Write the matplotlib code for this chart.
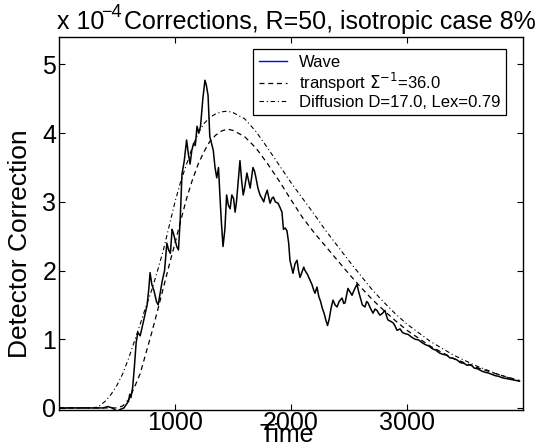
import matplotlib
matplotlib.use("Agg")
import matplotlib.pyplot as plt
from matplotlib.lines import Line2D

plt.rcParams['font.family'] = ['Liberation Sans', 'DejaVu Sans']

# ---- data (values in units of 1e-4) ----
wave_t = [0, 100, 200, 300, 380, 420, 460, 500, 530, 560, 580, 600, 610, 620, 635, 650, 665, 680, 700,
          720, 740, 760, 775, 785, 800, 820, 840, 855, 870, 890, 910, 930, 945, 960, 975, 985, 1000,
          1015, 1030, 1045, 1060, 1080, 1100, 1115, 1130, 1145, 1160, 1175, 1190, 1205, 1220, 1240,
          1258, 1270, 1285, 1300, 1315, 1330, 1345, 1360, 1375, 1390, 1400, 1414, 1430, 1445, 1460,
          1475, 1490, 1505, 1518, 1530, 1545, 1560, 1575, 1588, 1600, 1620, 1635, 1648, 1660, 1672,
          1685, 1698, 1715, 1733, 1750, 1765, 1780, 1795, 1810, 1820, 1835, 1848, 1865, 1888, 1905,
          1922, 1935, 1950, 1965, 1980, 1991, 2005, 2017, 2035, 2052, 2065, 2078, 2095, 2110, 2121,
          2140, 2164, 2180, 2195, 2207, 2224, 2240, 2255, 2270, 2285, 2300, 2315, 2330, 2345, 2362,
          2380, 2397, 2415, 2440, 2455, 2466, 2480, 2491, 2505, 2526, 2545, 2569, 2582, 2595, 2615,
          2638, 2652, 2664, 2685, 2707, 2725, 2741, 2755, 2767, 2790, 2810, 2825, 2836, 2860, 2879,
          2895, 2914, 2940, 2960, 2985, 3010, 3040, 3070, 3100, 3130, 3160, 3190, 3220, 3250, 3280,
          3310, 3340, 3370, 3400, 3430, 3460, 3490, 3520, 3550, 3580, 3610, 3640, 3670, 3700, 3730,
          3760, 3790, 3820, 3850, 3880, 3910, 3940, 3970]
wave_v = [0, 0, 0, 0, 0, 0.02, 0.0, -0.05, -0.02, 0.0, 0.05, 0.1, 0.2, 0.15, 0.3, 0.6, 0.95, 1.1, 1.05,
          1.2, 1.35, 1.5, 1.75, 1.97, 1.8, 1.7, 1.55, 1.5, 1.65, 1.85, 2.0, 2.4, 2.3, 2.25, 2.6, 2.55, 2.45,
          2.35, 2.3, 2.75, 3.4, 3.6, 3.9, 3.7, 3.55, 3.75, 3.85, 3.82, 4.1, 4.0, 4.1, 4.5,
          4.77, 4.7, 4.55, 3.95, 3.85, 3.75, 3.5, 3.35, 3.5, 3.0, 2.7, 2.35, 2.6, 3.1, 2.95,
          2.9, 3.1, 3.05, 2.85, 3.0, 3.3, 3.6, 3.3, 3.1, 3.2, 3.42, 3.3, 3.2, 3.35, 3.5,
          3.45, 3.35, 3.2, 3.1, 3.05, 3.0, 3.1, 3.17, 3.05, 2.98, 3.05, 3.07, 3.0, 2.98, 2.92,
          2.85, 2.6, 2.62, 2.58, 2.4, 2.15, 2.05, 1.96, 2.1, 2.15, 2.0, 1.9, 1.98, 2.05, 2.0,
          1.95, 1.86, 1.8, 1.72, 1.67, 1.76, 1.62, 1.55, 1.45, 1.38, 1.28, 1.2, 1.3, 1.45, 1.57,
          1.5, 1.47, 1.55, 1.6, 1.52, 1.53, 1.65, 1.74, 1.7, 1.64, 1.72, 1.8, 1.7, 1.62, 1.5,
          1.47, 1.55, 1.53, 1.45, 1.38, 1.44, 1.42, 1.38, 1.35, 1.38, 1.42, 1.33, 1.28, 1.26, 1.24,
          1.2, 1.13, 1.15, 1.1, 1.08, 1.07, 1.03, 1.0, 0.99, 0.95, 0.92, 0.9, 0.86, 0.84, 0.8,
          0.78, 0.77, 0.73, 0.72, 0.7, 0.66, 0.65, 0.62, 0.63, 0.58, 0.57, 0.54, 0.52, 0.51, 0.49,
          0.47, 0.46, 0.44, 0.43, 0.42, 0.41, 0.40, 0.39]

model_t = [0, 300, 350, 400, 450, 500, 550, 600, 650, 700, 750, 800, 850, 900, 950, 1000, 1050, 1100,
           1150, 1200, 1250, 1300, 1350, 1400, 1450, 1500, 1600, 1700, 1800, 1900, 2000, 2100, 2200,
           2300, 2400, 2500, 2600, 2700, 2800, 2900, 3000, 3200, 3400, 3600, 3800, 3970]
transport_v = [0, 0, 0, 0, 0, 0, 0.03, 0.12, 0.3, 0.5, 0.8, 1.1, 1.42, 1.75, 2.08, 2.4, 2.73, 3.05,
               3.32, 3.55, 3.73, 3.88, 3.97, 4.03, 4.06, 4.04, 3.95, 3.78, 3.55, 3.3, 3.03, 2.77, 2.55,
               2.35, 2.15, 1.95, 1.76, 1.58, 1.42, 1.27, 1.13, 0.9, 0.72, 0.59, 0.48, 0.40]
diffusion_v = [0, 0, 0.03, 0.1, 0.2, 0.33, 0.5, 0.72, 0.97, 1.22, 1.48, 1.72, 2.0, 2.3, 2.65, 3.0, 3.3,
               3.55, 3.8, 4.0, 4.14, 4.23, 4.28, 4.31, 4.32, 4.3, 4.21, 4.02, 3.78, 3.53, 3.28, 3.05,
               2.82, 2.58, 2.36, 2.14, 1.93, 1.72, 1.54, 1.37, 1.22, 0.97, 0.77, 0.61, 0.48, 0.39]

labels = ['Wave', 'transport $\\Sigma^{-1}$=36.0', 'Diffusion D=17.0, Lex=0.79']
x_ticks = [1000, 2000, 3000]
y_ticks = [0, 1, 2, 3, 4, 5]

FS = 18

fig = plt.figure(figsize=(5.42, 4.48), dpi=100)
ax = fig.add_axes([59/542, 1-410/448, 464/542, 373/448])

ax.plot(wave_t, wave_v, color='black', lw=1.1)
ax.plot(model_t, transport_v, color='black', lw=0.9, dashes=(4, 3))
ax.plot(model_t, diffusion_v, color='black', lw=0.8, dashes=(4, 2.5, 1, 2.5))

ax.set_xlim(0, 4000)
ax.set_ylim(-0.03, 5.4)
ax.set_xticks(x_ticks)
ax.set_yticks(y_ticks)
ax.tick_params(direction='in', length=4, width=0.8, top=True, right=True, labelsize=FS)
ax.tick_params(axis='x', pad=0.5)
ax.tick_params(axis='y', pad=2)
for s in ax.spines.values():
    s.set_linewidth(1.0)

ax.set_xlabel('Time', fontsize=FS, va='baseline')
ax.xaxis.set_label_coords(0.49, -(442 - 410) / 373)
ax.set_ylabel('Detector Correction', fontsize=19)
ax.yaxis.set_label_coords(-0.058, 0.445)

handles = [Line2D([], [], color='blue', lw=1.0),
           Line2D([], [], color='black', lw=0.9, dashes=(4, 3)),
           Line2D([], [], color='black', lw=0.8, dashes=(4, 2.5, 1, 2.5))]
leg = ax.legend(handles, labels, loc='upper right', bbox_to_anchor=((506-59)/464, 1-(49-37)/373),
                borderaxespad=0, fontsize=12, frameon=True, fancybox=False, framealpha=1,
                edgecolor='black', handlelength=1.7, labelspacing=0.05, handletextpad=0.7,
                borderpad=0.35)
leg.get_frame().set_linewidth(0.9)

fig.text(57/542, 1-29/448, 'x 10', fontsize=FS, va='baseline', ha='left')
fig.text(101/542, 1-17/448, '\u22124', fontsize=13, va='baseline', ha='left')
fig.text(124/542, 1-29/448, 'Corrections, R=50, isotropic case 8%', fontsize=FS, va='baseline', ha='left')

fig.savefig('out.png', dpi=100)
